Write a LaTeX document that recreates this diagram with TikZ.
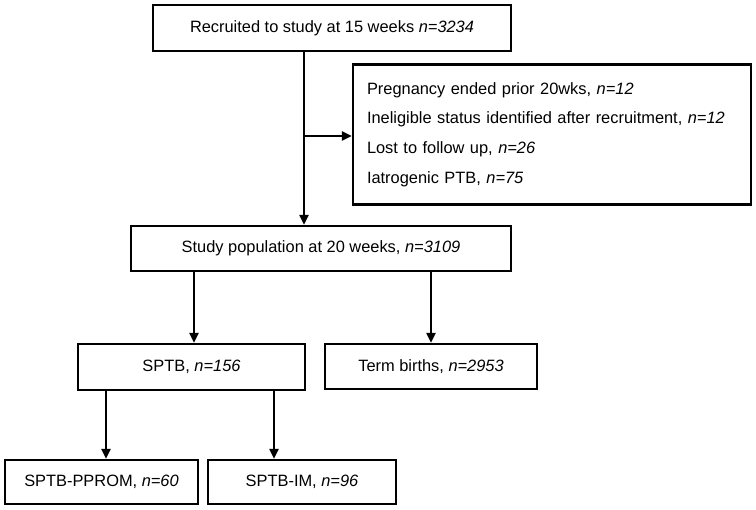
\documentclass[tikz,border=0pt]{standalone}
\usepackage{fontspec}
\setmainfont{Liberation Sans}
\usetikzlibrary{arrows.meta}
\begin{document}
\begin{tikzpicture}[x=1pt,y=-1pt,
  box/.style={draw=black, line width=2.2pt, rectangle, inner sep=0pt,
    font=\fontsize{16.4}{19}\selectfont},
  arr/.style={line width=2pt, -{Triangle[length=10pt,width=9pt]}},
  ln/.style={line width=2pt}]
\useasboundingbox (0,0) rectangle (756,510);
\node[box, minimum width=358pt, minimum height=46pt] (top) at (332,28)
  {Recruited to study at 15 weeks \textit{n=3234}};
\node[box, minimum width=398pt, minimum height=140pt, text width=370pt, align=left,
  font=\fontsize{16.4}{29.8}\selectfont] (excl) at (552,134.5)
  {Pregnancy ended prior 20wks, \textit{n=12}\\
   Ineligible status identified after recruitment, \textit{n=12}\\
   Lost to follow up, \textit{n=26}\\
   Iatrogenic PTB, \textit{n=75}};
\node[box, minimum width=380pt, minimum height=45pt] (study) at (321,248.5)
  {Study population at 20 weeks, \textit{n=3109}};
\node[box, minimum width=227pt, minimum height=46pt] (sptb) at (191.5,367)
  {SPTB, \textit{n=156}};
\node[box, minimum width=212pt, minimum height=45pt] (term) at (431,366.5)
  {Term births, \textit{n=2953}};
\node[box, minimum width=193pt, minimum height=44pt] (pprom) at (101.5,482)
  {SPTB-PPROM, \textit{n=60}};
\node[box, minimum width=188pt, minimum height=44pt] (im) at (302,482)
  {SPTB-IM, \textit{n=96}};
\coordinate (v) at (304,136);
\coordinate (a0) at (194,0);
\coordinate (a1) at (106,0);
\coordinate (a2) at (274,0);
\draw[arr] (v |- top.south) -- (v |- study.north);
\draw[arr] (v) -- (v -| excl.west);
\draw[arr] (study.south -| a0) -- (sptb.north -| a0);
\draw[arr] (study.south -| term.north) -- (term.north);
\draw[arr] (sptb.south -| a1) -- (pprom.north -| a1);
\draw[arr] (sptb.south -| a2) -- (im.north -| a2);
\end{tikzpicture}
\end{document}
